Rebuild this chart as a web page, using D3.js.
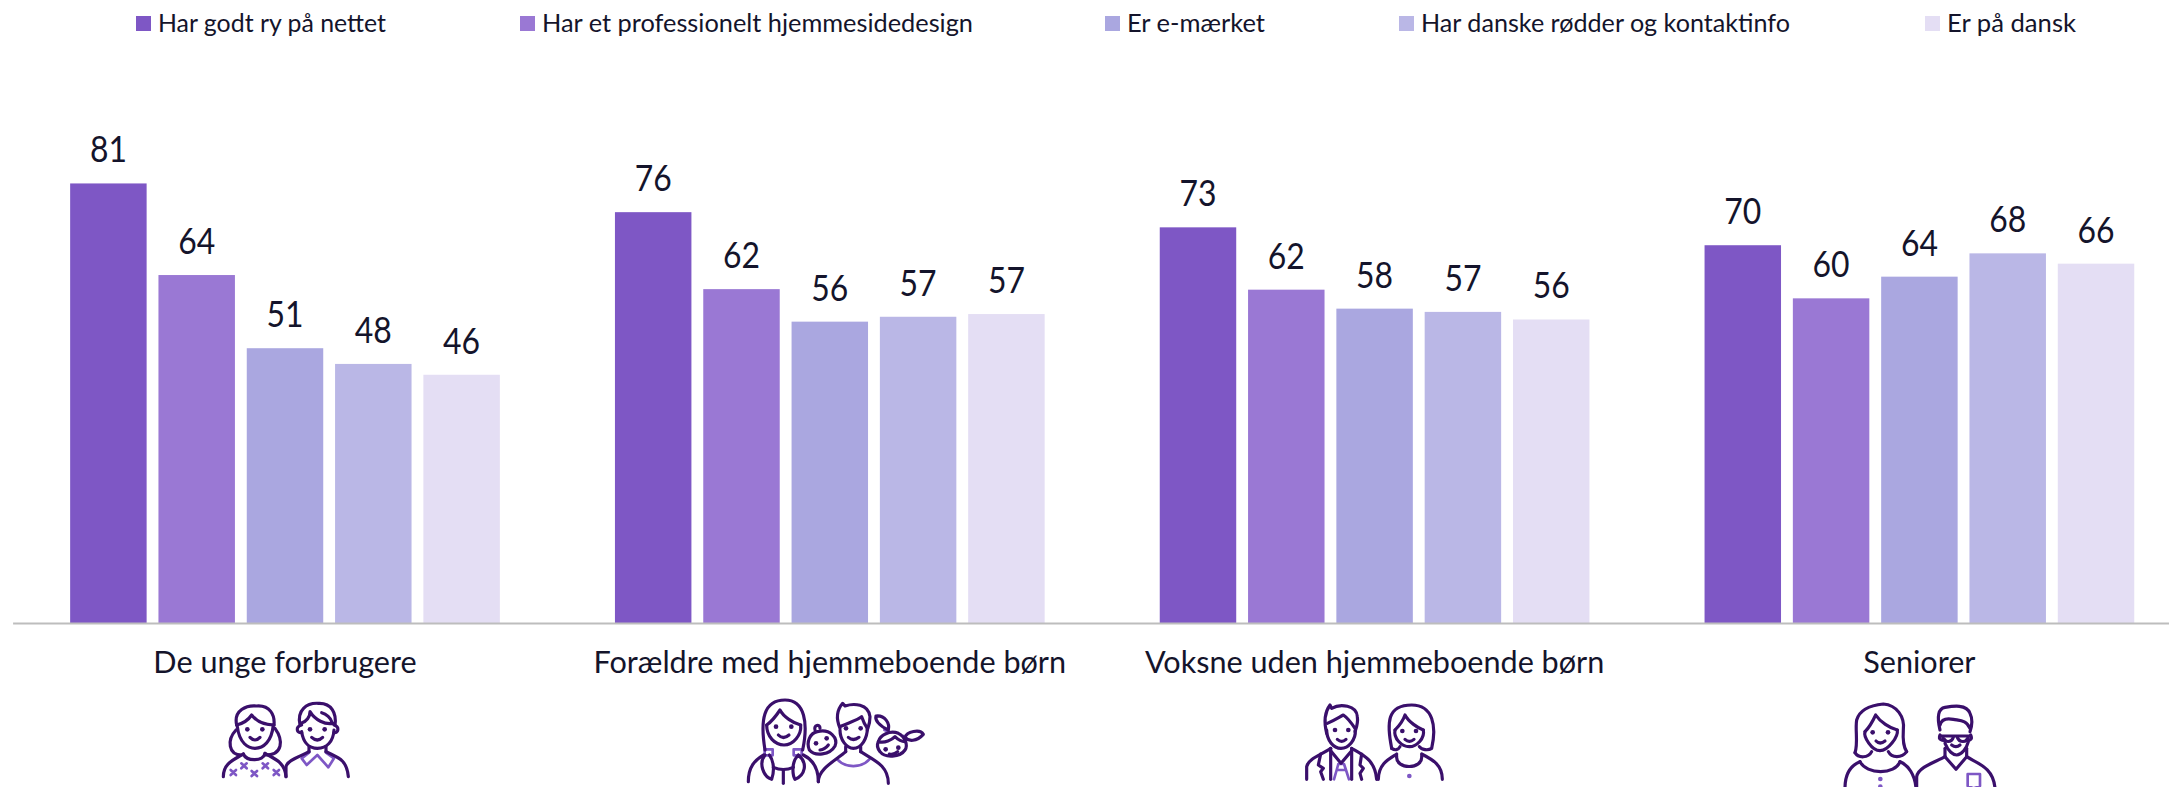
<!DOCTYPE html>
<html><head><meta charset="utf-8">
<style>html,body{margin:0;padding:0;background:#fff;overflow:hidden}svg{display:block}
text{font-family:Lato,"Noto Sans",sans-serif;fill:#14142b}</style>
<script src="https://cdn.jsdelivr.net/npm/d3@7"></script></head><body>
<svg id="c" width="2169" height="787"></svg>
<script>
const categories=["De unge forbrugere","Forældre med hjemmeboende børn","Voksne uden hjemmeboende børn","Seniorer"];
const seriesNames=["Har godt ry på nettet","Har et professionelt hjemmesidedesign","Er e-mærket","Har danske rødder og kontaktinfo","Er på dansk"];
const colors=["#7e57c5","#9a78d4","#aaa7e0","#bab7e6","#e4def4"];
const godtRy=[81.1,75.8,73.0,69.7];
const design=[64.2,61.6,61.5,59.9];
const emaerket=[50.7,55.6,58.0,63.9];
const roedder=[47.8,56.5,57.4,68.2];
const dansk=[45.8,57.0,56.0,66.3];
const seriesValues=[godtRy,design,emaerket,roedder,dansk];
const legendX=[136,520,1105,1399,1925];
const legendWidths=[228,431,138,369,129];

const svg=d3.select("#c");
const baseY=623;
const y=d3.scaleLinear().domain([0,100]).range([baseY,81]);
const x0=d3.scaleBand().domain(categories).range([12.6,2191.8]);
const x1=d3.scaleBand().domain(seriesNames).range([-214.85,214.85]).paddingInner(.134);
const fmt=d3.format(".0f");

// bars
seriesNames.forEach((s,i)=>{
  const g=svg.append("g");
  const cx=c=>x0(c)+x0.bandwidth()/2+x1(s);
  g.selectAll("rect").data(categories).join("rect")
    .attr("x",c=>cx(c)).attr("width",x1.bandwidth())
    .attr("y",(c,k)=>y(seriesValues[i][k])).attr("height",(c,k)=>baseY-y(seriesValues[i][k]))
    .attr("fill",colors[i]);
  g.selectAll("text").data(categories).join("text")
    .attr("x",c=>cx(c)+x1.bandwidth()/2).attr("y",(c,k)=>y(seriesValues[i][k])-21)
    .attr("text-anchor","middle").attr("font-size",37)
    .attr("textLength",37).attr("lengthAdjust","spacingAndGlyphs")
    .text((c,k)=>fmt(seriesValues[i][k]));
});

// axis
const ax=svg.append("g").attr("transform",`translate(0,${baseY})`)
  .call(d3.axisBottom(x0).tickSize(0).tickPadding(28));
ax.select(".domain").attr("stroke","#bdbdbd").attr("stroke-width",2);
ax.selectAll("text").attr("font-size",30.6).attr("font-family",null).style("fill","#14142b");

// legend
const lg=svg.append("g").selectAll("g").data(seriesNames).join("g")
  .attr("transform",(d,i)=>`translate(${legendX[i]},0)`);
lg.append("rect").attr("y",16).attr("width",15).attr("height",15).attr("fill",(d,i)=>colors[i]);
lg.append("text").attr("x",22).attr("y",32).attr("font-size",25.4)
  .attr("textLength",(d,i)=>legendWidths[i]).attr("lengthAdjust","spacingAndGlyphs").text(d=>d);

// icons (decoration, drawn in crop-pixel coordinates at 3x)
const dark=[
 [[200,680],[
 "M110 135C100 90 140 75 170 78C210 75 225 105 222 135","M110 135C130 130 145 120 155 105C170 125 195 135 222 135",
 "M112 140C118 190 145 205 165 205C190 205 215 185 220 135","M108 150C80 180 85 225 125 225","M225 145C250 180 250 225 195 225",
 "M130 222C140 245 190 245 195 220","M70 290C70 250 100 240 130 222","M195 220C220 235 255 245 258 290","M150 172Q165 188 180 172",
 "M300 135C290 90 320 68 355 70C395 68 410 100 405 135","M303 130C320 125 330 110 330 95C345 120 375 135 400 130","M365 98C380 102 392 115 395 125",
 "M305 155C310 190 330 205 352 205C380 205 400 185 402 150","M305 135C285 140 290 160 305 158","M402 135C420 140 415 160 402 158",
 "M327 200V215","M378 200V215","M258 290V260C262 240 300 230 327 215","M378 215C410 232 440 235 445 290","M335 172Q352 188 368 172"],
 [[142,148],[187,148],[330,148],[374,148]],
 ["M92 270L108 285M108 270L92 285","M124 250L140 265M140 250L124 265","M155 273L171 288M171 273L155 288","M188 250L204 265M204 250L188 265","M221 270L237 285M237 270L221 285",
  "M327 218L305 235L320 255L352 225L385 262L402 235L378 218"],[]],
 [[730,680],[
 "M105 210C90 120 100 60 165 60C225 60 235 130 218 210","M110 135C125 125 140 105 150 90C160 110 190 130 212 135",
 "M110 135C110 170 135 195 162 195C190 195 215 165 212 135","M105 225C85 250 100 290 125 298C135 270 130 240 118 225","M205 225C180 250 190 290 195 298C225 285 235 250 205 225",
 "M55 305C55 260 75 240 100 225","M220 225C250 240 265 265 265 305","M160 270V310","M130 262Q160 275 190 262","M145 165Q160 180 177 165",
 "M262 155C300 145 325 175 315 198C300 225 255 230 238 210C228 185 240 160 262 155","M255 150C250 135 270 130 270 145","M270 210Q285 208 295 195",
 "M330 145C315 110 325 85 338 70L345 78C370 70 415 70 420 110C420 130 415 140 412 150","M330 140C350 130 385 120 395 110C400 125 405 135 412 145",
 "M330 150C330 180 350 205 370 205C395 205 412 175 412 145","M347 200V215","M392 200V215","M265 305C265 265 320 240 347 215","M392 215C430 240 475 255 475 310","M355 172Q370 185 387 172",
 "M445 185C450 165 480 150 505 160C525 170 535 195 525 210C510 232 465 235 450 215C442 205 440 195 445 185","M445 185C465 190 485 180 495 170C505 180 515 185 525 185",
 "M475 150C445 135 435 120 438 108C465 105 480 130 475 150","M525 172C530 155 570 145 580 163C560 185 535 185 525 172","M478 222Q492 225 503 215"],
 [[138,140],[184,140],[258,190],[290,175],[348,145],[392,145],[467,208],[505,203]],
 ["M322 238C345 265 395 265 418 238","M104 208H128V226H104Z","M191 208H215V226H191Z","M463 150L477 155","M520 168L530 178"],[]],
 [[1280,680],[
 "M140 160C130 120 135 95 150 75L155 85C180 70 230 75 232 110C235 130 228 145 225 155","M142 130C165 120 180 110 190 105C205 115 215 130 225 145",
 "M140 150C140 180 160 205 183 205C205 205 228 180 226 150","M172 178Q185 190 198 178","M152 205V298","M215 205V298","M152 212L183 250L215 212",
 "M80 298V260C85 235 125 225 152 205","M215 205C250 225 285 240 290 298","M122 222L115 255L130 265L122 275L130 298","M245 222L240 255L250 265L240 280L245 298",
 "M335 205C320 130 320 75 395 75C460 75 470 140 455 205C445 212 425 210 418 200","M335 205C345 212 355 210 360 200","M345 150C360 135 370 120 375 105C385 125 415 145 430 150",
 "M345 150C340 175 365 200 388 200C410 200 435 175 430 150","M375 178Q388 190 402 178","M295 298C295 250 330 235 350 222","M425 222C460 240 487 255 487 298","M350 228C345 270 430 270 425 228"],
 [[165,150],[205,150],[367,153],[408,153]],
 ["M175 252H192L198 270L207 298M175 252L170 270L162 298M170 270H198"],[[388,288]]],
 [[1820,680],[
 "M105 218C115 190 105 150 110 120C120 85 160 75 190 72C230 75 255 110 250 150C248 180 250 200 260 215","M105 218C115 235 145 235 155 215","M260 215C245 235 215 235 205 215",
 "M135 155C150 140 160 120 167 105C180 125 210 145 232 150","M135 155C130 170 155 212 180 212C205 212 235 170 232 150","M168 183Q180 195 195 183",
 "M75 325C75 275 95 255 120 245","M240 245C265 255 285 285 288 325","M120 245C140 285 225 285 240 245",
 "M360 150C350 110 355 85 375 82C400 78 440 72 450 100C460 120 455 140 450 155","M360 135C365 115 385 115 400 118C420 122 440 120 450 145",
 "M360 165C352 180 370 182 375 180","M452 165C460 180 445 182 440 180","M362 168H450","M368 170C375 190 395 188 400 172","M412 172C418 188 440 190 445 170",
 "M375 190C385 215 400 225 410 225C425 225 440 205 445 185","M395 195Q408 205 420 195","M375 205V230","M440 205V230","M375 230L408 268L440 230",
 "M290 325V290C295 260 350 245 375 230","M440 230C470 250 520 260 525 325"],
 [[158,157],[204,157]],
 ["M443 282H480V318L461 325L443 318Z"],[[181,297],[181,320]]]
];
dark.forEach(([o,lines,eyes,acc,dots])=>{
  const g=svg.append("g").attr("transform",`translate(${o[0]},${o[1]}) scale(${1/3})`)
    .attr("fill","none").attr("stroke-linecap","round").attr("stroke-linejoin","round");
  acc.forEach(d=>g.append("path").attr("d",d).attr("stroke","#7e57c5").attr("stroke-width",8));
  lines.forEach(d=>g.append("path").attr("d",d).attr("stroke","#3a0f6b").attr("stroke-width",9.5));
  eyes.forEach(e=>g.append("circle").attr("cx",e[0]).attr("cy",e[1]).attr("r",7).attr("fill","#3a0f6b"));
  dots.forEach(e=>g.append("circle").attr("cx",e[0]).attr("cy",e[1]).attr("r",7).attr("fill","#7e57c5"));
});
</script></body></html>
